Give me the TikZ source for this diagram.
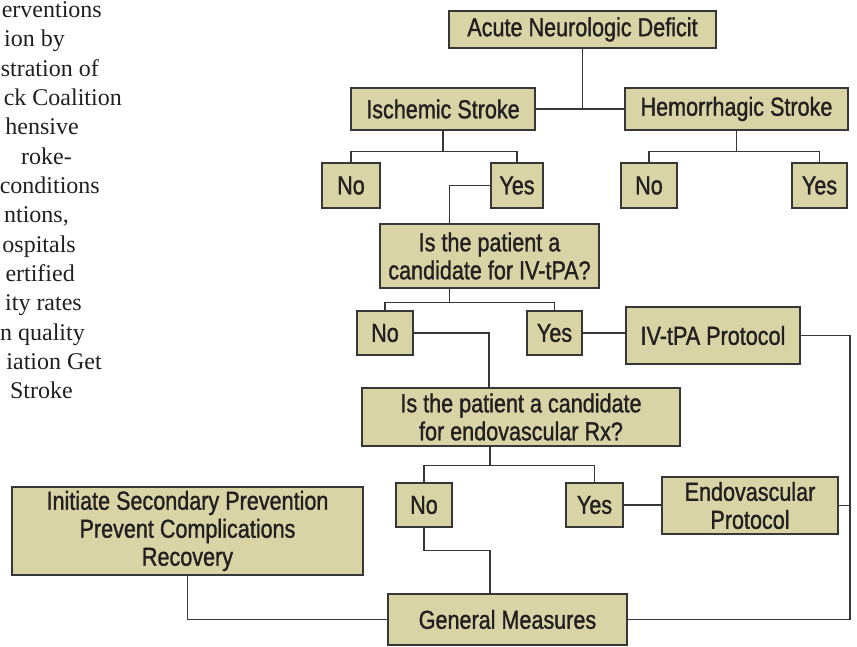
\documentclass[tikz,border=0pt]{standalone}
\usepackage{fontspec}
\newfontfamily\boxfont[FakeStretch=0.83, FakeBold=1.2]{Liberation Sans}
\newfontfamily\bodyfont{Liberation Serif}
\usetikzlibrary{calc}

\definecolor{boxtan}{RGB}{217,212,166}
\definecolor{linegray}{RGB}{55,55,55}
\definecolor{inkblack}{RGB}{35,31,32}

\tikzset{
  box/.style={draw=linegray, fill=boxtan, line width=1.4pt, text=inkblack,
    font=\boxfont\fontsize{26}{28}\selectfont, align=center, inner sep=0pt},
  link/.style={draw=linegray, line width=1.4pt}
}

\begin{document}
\begin{tikzpicture}[x=1pt, y=-1pt]
  \useasboundingbox (0,0) rectangle (857,647);
  \clip (0,0) rectangle (857,647);

  % --- running text cut off at the left margin ---
  \foreach \txt/\xe [count=\i from 0] in {erventions/102, ion by/65,
      stration of/99, ck Coalition/122, hensive/79, roke-/72,
      conditions/100, {ntions,}/69, ospitals/76, ertified/75,
      ity rates/82, n quality/85, iation Get/102, Stroke/73}
    \node[anchor=base east, inner sep=0pt, text=inkblack,
      font=\bodyfont\fontsize{24}{29}\selectfont]
      at (\xe, {17.3+29.36*\i}) {\txt};

  % --- top level ---
  \node[box, minimum width=267, minimum height=37] (acute) at (582.5,29.5) {Acute Neurologic Deficit};
  \node[box, minimum width=184, minimum height=42] (isch) at (443,109) {Ischemic Stroke};
  \node[box, minimum width=223, minimum height=42] (hem) at (736.5,109) {Hemorrhagic Stroke};

  \node[box, minimum width=58, minimum height=45] (ino) at (351,185.5) {No};
  \node[box, minimum width=52, minimum height=45] (iyes) at (517,185.5) {Yes};
  \node[box, minimum width=56, minimum height=45] (hno) at (649,185.5) {No};
  \node[box, minimum width=55, minimum height=45] (hyes) at (819.5,185.5) {Yes};

  % --- IV-tPA decision ---
  \node[box, minimum width=219, minimum height=64] (tpaq) at (489.5,256) {Is the patient a\\candidate for IV-tPA?};
  \node[box, minimum width=56, minimum height=44] (tno) at (385,333) {No};
  \node[box, minimum width=55, minimum height=44] (tyes) at (554.5,333) {Yes};
  \node[box, minimum width=174, minimum height=57] (tpaprot) at (713,335.5) {IV-tPA Protocol};

  % --- endovascular decision ---
  \node[box, minimum width=318, minimum height=58] (endoq) at (521,417) {Is the patient a candidate\\for endovascular Rx?};
  \node[box, minimum width=56, minimum height=44] (eno) at (424,505) {No};
  \node[box, minimum width=57, minimum height=44] (eyes) at (594.5,505) {Yes};
  \node[box, minimum width=176, minimum height=57] (endoprot) at (750,505.5) {Endovascular\\Protocol};

  % --- outcome ---
  \node[box, minimum width=351, minimum height=88] (sec) at (187.5,531) {Initiate Secondary Prevention\\Prevent Complications\\Recovery};
  \node[box, minimum width=239, minimum height=51] (gen) at (507.5,619.5) {General Measures};

  % connectors
  \coordinate (rail) at (850,0);
  \draw[link] (isch) -- (hem);
  \draw[link] (acute.south) -- (acute.south |- isch.east);
  \draw[link] (isch.south) -- ++(0,21) coordinate (ib);
  \draw[link] (ino.north) |- (ib) -| (iyes.north);
  \draw[link] (hem.south) -- ++(0,21) coordinate (hb);
  \draw[link] (hno.north) |- (hb) -| (hyes.north);
  \draw[link] (iyes.west) -| ([xshift=-40pt]tpaq.north);

  \draw[link] ([xshift=-40pt]tpaq.south) -- ++(0,14) coordinate (tb);
  \draw[link] (tno.north) |- (tb) -| (tyes.north);
  \draw[link] (tyes.east) -- (tpaprot.west |- tyes.east);
  \draw[link] (tpaprot.east) -- (tpaprot.east -| rail) |- (gen.east);
  \draw[link] (tno.east) -| ([xshift=-32pt]endoq.north);

  \draw[link] ([xshift=-31pt]endoq.south) -- ++(0,19) coordinate (eb);
  \draw[link] (eno.north) |- (eb) -| (eyes.north);
  \draw[link] (eyes.east) -- (endoprot.west |- eyes.east);
  \draw[link] (endoprot.east) -- (endoprot.east -| rail);
  \draw[link] (eno.south) -- ++(0,23) coordinate (nb);
  \draw[link] (nb) -| ([xshift=-17.5pt]gen.north);
  \draw[link] (sec.south) |- (gen.west);
\end{tikzpicture}
\end{document}
